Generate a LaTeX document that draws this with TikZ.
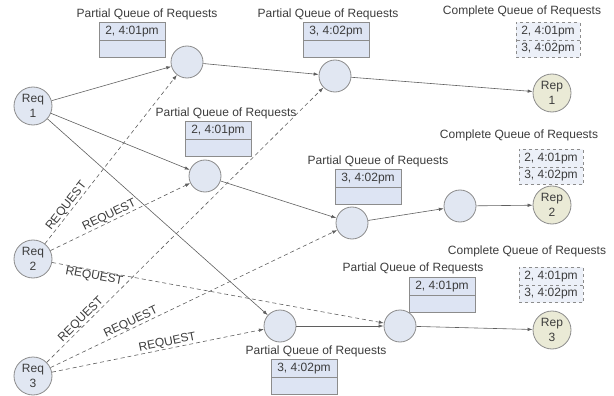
\documentclass[tikz,border=0pt]{standalone}
\usepackage{fontspec}
\setmainfont{Liberation Sans}
\usepackage{tikz}
\usetikzlibrary{positioning, arrows.meta, shapes.multipart}

\definecolor{nodefill}{RGB}{225,231,242}
\definecolor{repfill}{RGB}{234,234,214}
\definecolor{boxfill}{RGB}{221,228,243}
\definecolor{cboxfill}{RGB}{236,240,248}
\definecolor{edgegray}{RGB}{140,140,140}
\definecolor{linegray}{RGB}{95,95,95}
\definecolor{txtgray}{RGB}{60,60,60}

\begin{document}
\begin{tikzpicture}[x=1pt, y=-1pt, font=\fontsize{12}{15}\selectfont, text=txtgray,
  hop/.style={circle, draw=edgegray, line width=0.8pt, fill=nodefill, minimum size=32pt, inner sep=0pt},
  req/.style={hop, minimum size=38pt, align=center},
  rep/.style={req, fill=repfill},
  pqueue/.style={rectangle split, rectangle split parts=2, draw=edgegray, line width=0.7pt,
    fill=boxfill, minimum width=66pt, inner ysep=3pt},
  cqueue/.style={pqueue, dashed, fill=cboxfill, minimum width=64pt},
  qtitle/.style={inner sep=0pt},
  msg/.style={draw=linegray, line width=0.6pt, -{Latex[length=5pt,width=3.5pt]}},
  reqmsg/.style={msg, dash pattern=on 4pt off 3pt},
  lbl/.style={sloped, inner sep=0.5pt}]
\useasboundingbox (0,0) rectangle (614,396);

% replicas sending requests
\node(req1)[req] at (33,106) {Req\\1};
\node(req2)[req] at (33,259) {Req\\2};
\node(req3)[req] at (33,376) {Req\\3};

% intermediate hops
\node(pa)[hop] at (187,62) {};
\node(pb)[hop] at (205,176) {};
\node(pc)[hop] at (335,76) {};
\node(pd)[hop] at (352,223) {};
\node(pe)[hop] at (460,206) {};
\node(pf)[hop] at (280,326) {};
\node(pg)[hop] at (400,326) {};

% receiving replicas
\node(rep1)[rep] at (552,93) {Rep\\1};
\node(rep2)[rep] at (552,205) {Rep\\2};
\node(rep3)[rep] at (552,330) {Rep\\3};

% partial queues
\node(qa)[pqueue] at (132,40) {2, 4:01pm\nodepart{two}\vphantom{2p}};
\node(qc)[pqueue] at (336,40) {3, 4:02pm\nodepart{two}\vphantom{2p}};
\node(qb)[pqueue] at (218,139) {2, 4:01pm\nodepart{two}\vphantom{2p}};
\node(qd)[pqueue] at (368,187) {3, 4:02pm\nodepart{two}\vphantom{2p}};
\node(qg)[pqueue] at (442,295) {2, 4:01pm\nodepart{two}\vphantom{2p}};
\node(qf)[pqueue] at (304,377) {3, 4:02pm\nodepart{two}\vphantom{2p}};
\node(ta)[qtitle, above=1.5pt of qa, xshift=15pt]{Partial Queue of Requests};
\node(tc)[qtitle, above=1.5pt of qc, xshift=-8pt]{Partial Queue of Requests};
\node(tb)[qtitle, above=1.5pt of qb, xshift=8pt]{Partial Queue of Requests};
\node(td)[qtitle, above=1.5pt of qd, xshift=10pt]{Partial Queue of Requests};
\node(tg)[qtitle, above=2.5pt of qg, xshift=-29pt]{Partial Queue of Requests};
\node(tf)[qtitle, above=1.5pt of qf, xshift=12pt]{Partial Queue of Requests};

% complete queues
\node(cq1)[cqueue] at (548,40) {2, 4:01pm\nodepart{two}3, 4:02pm};
\node(cq2)[cqueue] at (551,167) {2, 4:01pm\nodepart{two}3, 4:02pm};
\node(cq3)[cqueue] at (551,285) {2, 4:01pm\nodepart{two}3, 4:02pm};
\node(tq1)[qtitle, above=4.5pt of cq1, xshift=-26pt]{Complete Queue of Requests};
\node(tq2)[qtitle, above=7.5pt of cq2, xshift=-32pt]{Complete Queue of Requests};
\node(tq3)[qtitle, above=9.5pt of cq3, xshift=-24pt]{Complete Queue of Requests};

% forwarding
\draw[msg] (req1) -- (pa);
\draw[msg] (req1) -- (pb);
\draw[msg] (req1) -- (pf);
\draw[msg] (pa) -- (pc);
\draw[msg] (pc) -- (rep1);
\draw[msg] (pb) -- (pd);
\draw[msg] (pd) -- (pe);
\draw[msg] (pe) -- (rep2);
\draw[msg] (pf) -- (pg);
\draw[msg] (pg) -- (rep3);

% requests
\draw[reqmsg] (req2) -- node[lbl, above, pos=0.2]{REQUEST} (pa);
\draw[reqmsg] (req2) -- node[lbl, above, pos=0.44]{REQUEST} (pb);
\draw[reqmsg] (req2) -- node[lbl, below, pos=0.13]{REQUEST} (pg);
\draw[reqmsg] (req3) -- node[lbl, above, pos=0.14]{REQUEST} (pc);
\draw[reqmsg] (req3) -- node[lbl, above, pos=0.29]{REQUEST} (pd);
\draw[reqmsg] (req3) -- node[lbl, above, pos=0.55]{REQUEST} (pf);
\end{tikzpicture}
\end{document}
